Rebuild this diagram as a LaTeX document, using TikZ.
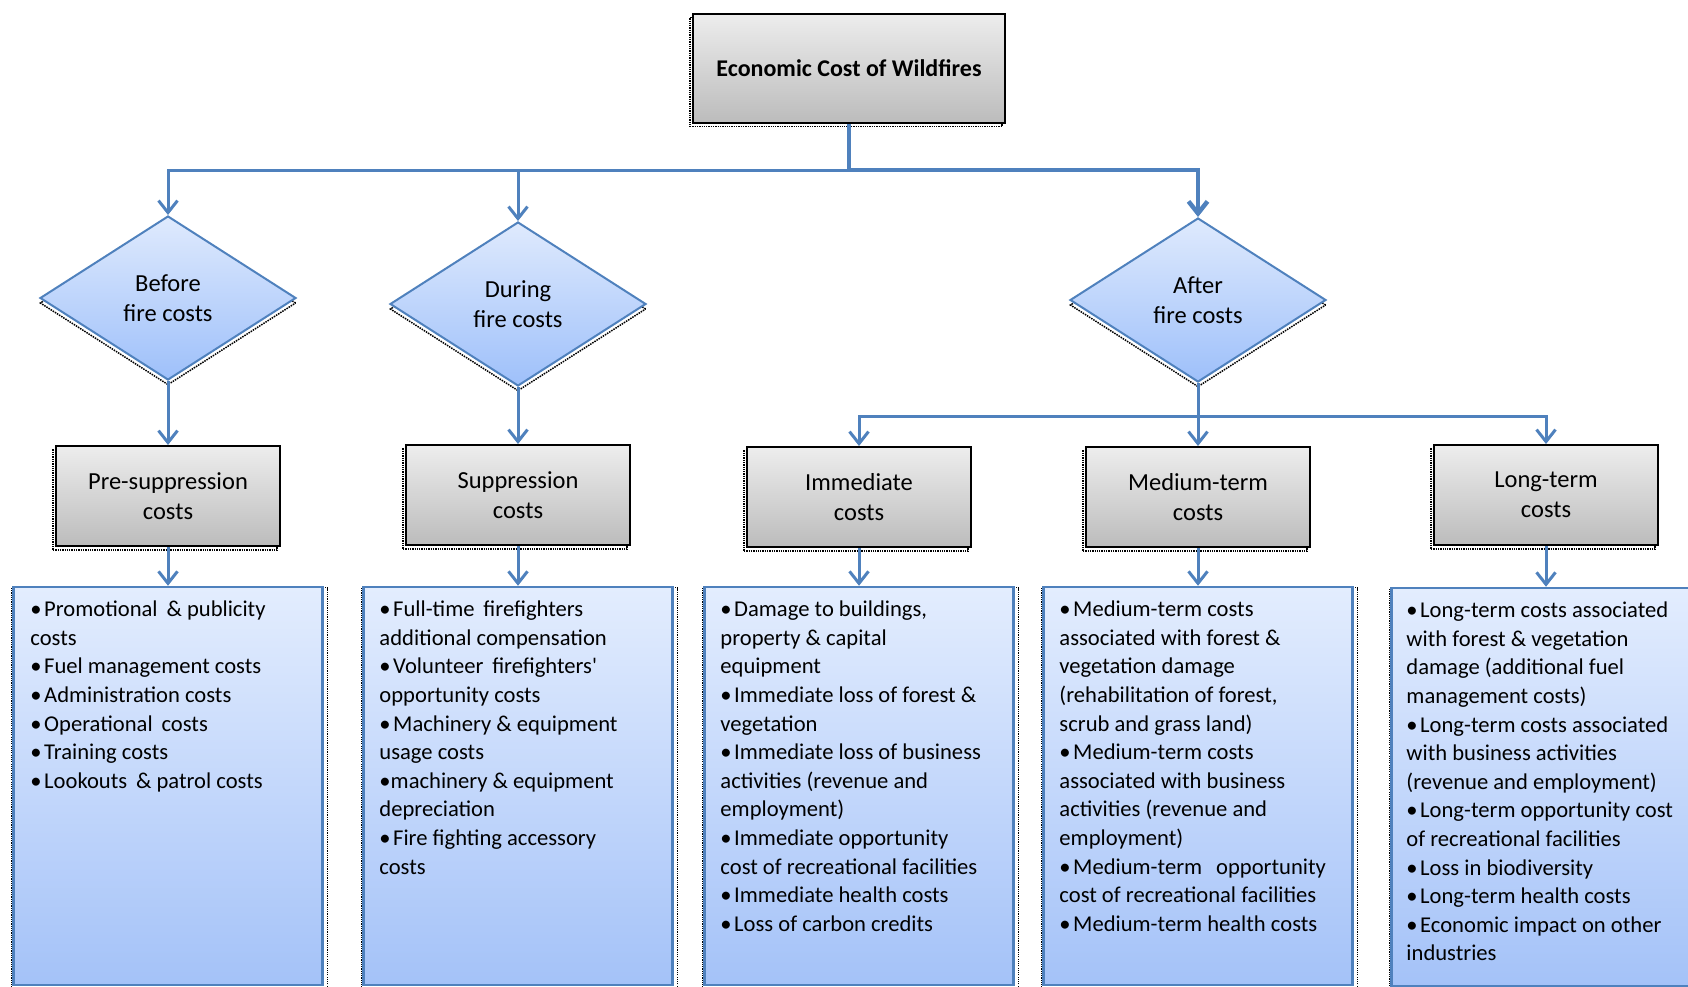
\documentclass[tikz,border=0pt]{standalone}
\usepackage{fontspec}
\setmainfont{Carlito}
\usepackage{tikz}
\usetikzlibrary{arrows.meta,shapes.geometric,shadows}
\definecolor{flowblue}{HTML}{4F81BD}
\definecolor{boxtop}{HTML}{EDEDED}
\definecolor{boxbottom}{HTML}{BCBCBC}
\definecolor{diatop}{HTML}{DFEAFD}
\definecolor{diabottom}{HTML}{9EC0FA}
\definecolor{listtop}{HTML}{E3EDFE}
\definecolor{listbottom}{HTML}{A4C2F8}
\newcommand{\flowcolor}{flowblue}
\newcommand{\flowwidth}{3pt}
\newcommand{\dotshadow}{black}
\newcommand{\blt}{•\hspace{2.5pt}}

\tikzset{
  conn/.style={draw=\flowcolor, line width=\flowwidth, -{Straight Barb[length=12pt,width=19pt]}},
  trunk/.style={conn, line width=4.5pt},
  costbox/.style={draw=black, line width=2pt, top color=boxtop, bottom color=boxbottom,
    minimum width=224pt, minimum height=100pt, align=center, inner sep=0pt,
    font=\fontsize{24.5}{30}\selectfont,
    general shadow={shadow xshift=-3pt, shadow yshift=-4pt, draw=\dotshadow, densely dotted, line width=1.3pt}},
  phase/.style={diamond, draw=\flowcolor, line width=2pt, top color=diatop, bottom color=diabottom,
    minimum width=256pt, minimum height=164pt, aspect=1.6, align=center, inner sep=0pt,
    font=\fontsize{24.5}{30}\selectfont,
    general shadow={shadow yshift=-5pt, draw=\dotshadow, densely dotted, line width=1.5pt}},
  listbox/.style={draw=\flowcolor, line width=2.5pt, top color=listtop, bottom color=listbottom,
    minimum width=309pt, minimum height=398pt, inner sep=0pt,
    general shadow={shadow xshift=1.5pt, shadow yshift=-5pt, shadow scale=1.023, draw=\dotshadow, densely dotted, line width=1.2pt}},
  listtext/.style={anchor=north west, inner sep=0pt, align=left, font=\fontsize{22.6}{28.6}\selectfont}
}

\begin{document}
\begin{tikzpicture}[x=1pt, y=-1pt]
\path[use as bounding box, clip] (0, 0) rectangle (1688, 986);
%top
\node[costbox, minimum width=312pt, minimum height=109pt, font=\fontsize{24}{30}\selectfont\bfseries] (cost) at (849, 68) {Economic Cost of Wildfires};
\coordinate (bus1) at (849, 170);
%phases
\node[phase] (before) at (168, 298) {Before\\fire costs};
\node[phase] (during) at (518, 304) {During\\fire costs};
\node[phase] (after) at (1198, 300) {After\\fire costs};
\coordinate (bus2) at (1198, 416);
%cost types
\node[costbox] (presup) at (168, 496) {Pre-suppression\\costs};
\node[costbox] (sup) at (518, 495) {Suppression\\costs};
\node[costbox] (imm) at (859, 497) {Immediate\\costs};
\node[costbox] (med) at (1198, 497) {Medium-term\\costs};
\node[costbox] (long) at (1546, 495) {Long-term\\costs};
%lists
\node[listbox] (presuplist) at (168, 786) {};
\node[listbox] (suplist) at (518, 786) {};
\node[listbox] (immlist) at (859, 786) {};
\node[listbox] (medlist) at (1198, 786) {};
\node[listbox] (longlist) at (1546, 787) {};

\node[listtext] at ([xshift=18pt, yshift=-15pt]presuplist.north west) {%
\blt Promotional \,\& publicity\\costs\\\blt Fuel management costs\\\blt Administration costs\\%
\blt Operational \,costs\\\blt Training costs\\\blt Lookouts \,\& patrol costs};
\node[listtext] at ([xshift=17pt, yshift=-15pt]suplist.north west) {%
\blt Full-time \,firefighters\\additional compensation\\\blt Volunteer \,firefighters\textquotesingle\\%
opportunity costs\\\blt Machinery \& equipment\\usage costs\\•machinery \& equipment\\depreciation\\%
\blt Fire fighting accessory\\costs};
\node[listtext] at ([xshift=17pt, yshift=-15pt]immlist.north west) {%
\blt Damage to buildings,\\property \& capital\\equipment\\\blt Immediate loss of forest \&\\vegetation\\%
\blt Immediate loss of business\\activities (revenue and\\employment)\\\blt Immediate opportunity\\%
cost of recreational facilities\\\blt Immediate health costs\\\blt Loss of carbon credits};
\node[listtext] at ([xshift=17pt, yshift=-15pt]medlist.north west) {%
\blt Medium-term costs\\associated with forest \&\\vegetation damage\\(rehabilitation of forest,\\%
scrub and grass land)\\\blt Medium-term costs\\associated with business\\activities (revenue and\\%
employment)\\\blt Medium-term \ \,opportunity\\cost of recreational facilities\\\blt Medium-term health costs};
\node[listtext] at ([xshift=16pt, yshift=-15pt]longlist.north west) {%
\blt Long-term costs associated\\with forest \& vegetation\\damage (additional fuel\\management costs)\\%
\blt Long-term costs associated\\with business activities\\(revenue and employment)\\%
\blt Long-term opportunity cost\\of recreational facilities\\\blt Loss in biodiversity\\%
\blt Long-term health costs\\\blt Economic impact on other\\industries};

%connectors
\draw[trunk] (cost) -- (bus1) -| (after);
\draw[conn] (bus1) -| (before);
\draw[conn] (bus1) -| (during);
\draw[conn] (before) -- (presup);
\draw[conn] (during) -- (sup);
\draw[conn] (after) -- (bus2) -| (imm);
\draw[conn] (bus2) -- (med);
\draw[conn] (bus2) -| (long);
\draw[conn] (presup) -- (presuplist);
\draw[conn] (sup) -- (suplist);
\draw[conn] (imm) -- (immlist);
\draw[conn] (med) -- (medlist);
\draw[conn] (long) -- (longlist);
\end{tikzpicture}
\end{document}
